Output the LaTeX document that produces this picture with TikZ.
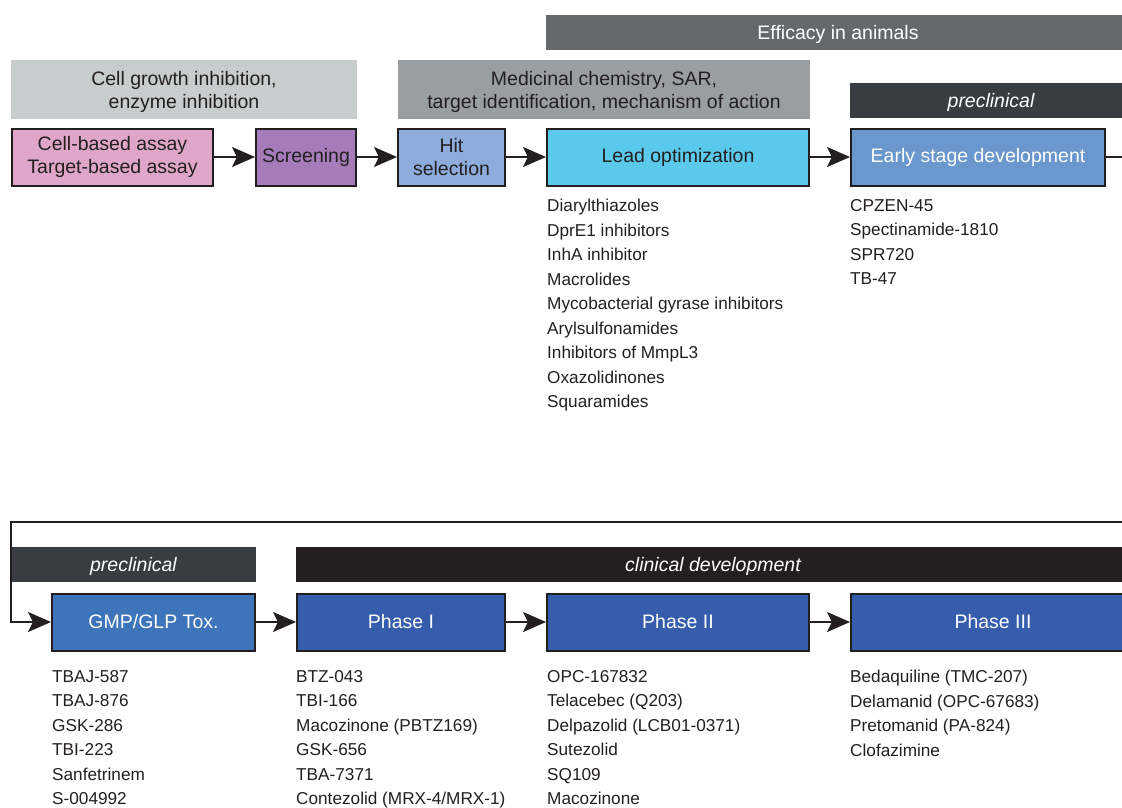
\documentclass[tikz,border=0pt]{standalone}
\usepackage{fontspec}
\setmainfont{Liberation Sans}
\usetikzlibrary{arrows.meta}

\definecolor{inkdark}{HTML}{231F20}
\definecolor{bandlight}{HTML}{C9CCCC}
\definecolor{bandgrey}{HTML}{9B9EA1}
\definecolor{bandmid}{HTML}{65696C}
\definecolor{bandslate}{HTML}{393C40}
\definecolor{pinkassay}{HTML}{E0A6C9}
\definecolor{purplescreen}{HTML}{A57CB9}
\definecolor{bluehit}{HTML}{8DACDC}
\definecolor{cyanlead}{HTML}{5BC9EC}
\definecolor{blueearly}{HTML}{6A97CD}
\definecolor{bluegmp}{HTML}{3D74BA}
\definecolor{bluephase}{HTML}{355DAC}

\newcommand{\stagefont}{\fontsize{19.5}{23}\selectfont}
\newcommand{\drugfont}{\fontsize{17.2}{24.5}\selectfont}

\begin{document}
\begin{tikzpicture}[
  x=1pt, y=-1pt,
  every node/.style={font=\stagefont, text=inkdark},
  stage/.style={draw=inkdark, line width=2pt, minimum height=57pt, align=center, inner sep=0pt},
  band/.style={minimum height=35pt, inner sep=0pt, align=center, text depth=0pt},
  phase label/.style={band, text=white, font=\stagefont\itshape},
  drug list/.style={anchor=north west, align=left, inner sep=0pt, font=\drugfont},
  flow/.style={draw=inkdark, line width=2pt, -{Stealth[length=23pt, width=20pt, inset=5pt]}}
]
\path[use as bounding box] (0,0) rectangle (1122,808);
\clip (0,0) rectangle (1122,808);

\node[band, fill=bandmid, text=white, minimum width=584pt] (efficacy) at (838,32.5) {Efficacy in animals};
\node[band, fill=bandlight, minimum width=346pt, minimum height=59pt] (growth) at (184,89.5) {Cell growth inhibition,\\enzyme inhibition};
\node[band, fill=bandgrey, minimum width=412pt, minimum height=59pt] (medchem) at (604,89.5) {Medicinal chemistry, SAR,\\target identification, mechanism of action};
\node[phase label, fill=bandslate, minimum width=282pt] (preA) at (991,100.5) {preclinical};

\node[stage, fill=pinkassay, minimum width=201pt] (assay) at (112.5,157) {Cell-based assay\\Target-based assay};
\node[stage, fill=purplescreen, minimum width=100pt] (screening) at (306,157) {Screening};
\node[stage, fill=bluehit, minimum width=107pt] (hit) at (451.5,157) {Hit\\selection};
\node[stage, fill=cyanlead, minimum width=262pt] (lead) at (678,157) {Lead optimization};
\node[stage, fill=blueearly, text=white, minimum width=254pt] (early) at (978,157) {Early stage development};

\draw[flow] (assay) -- (screening);
\draw[flow] (screening) -- (hit);
\draw[flow] (hit) -- (lead);
\draw[flow] (lead) -- (early);

\node[drug list] (leadlist) at (547,199) {Diarylthiazoles\\DprE1 inhibitors\\InhA inhibitor\\Macrolides\\Mycobacterial gyrase inhibitors\\Arylsulfonamides\\Inhibitors of MmpL3\\Oxazolidinones\\Squaramides};
\node[drug list] (earlylist) at (850,199) {CPZEN-45\\Spectinamide-1810\\SPR720\\TB-47};

\node[phase label, fill=bandslate, minimum width=245pt] (preB) at (133.5,564) {preclinical};
\node[phase label, fill=inkdark, minimum width=834pt] (clinical) at (713,564) {clinical development};

\node[stage, fill=bluegmp, text=white, minimum width=203pt] (gmp) at (153.5,622) {GMP/GLP Tox.};
\node[stage, fill=bluephase, text=white, minimum width=208pt] (phaseI) at (401,622) {Phase I};
\node[stage, fill=bluephase, text=white, minimum width=262pt] (phaseII) at (678,622) {Phase II};
\node[stage, fill=bluephase, text=white, minimum width=284pt] (phaseIII) at (993,622) {Phase III};

\coordinate (loopR) at (1140,522);
\coordinate (loopL) at (11,522);
\draw[flow] (early.east) -| (loopR) -- (loopL) |- (gmp.west);
\draw[flow] (gmp) -- (phaseI);
\draw[flow] (phaseI) -- (phaseII);
\draw[flow] (phaseII) -- (phaseIII);

\node[drug list] (gmplist) at (52,670) {TBAJ-587\\TBAJ-876\\GSK-286\\TBI-223\\Sanfetrinem\\S-004992};
\node[drug list] (phaseIlist) at (296,670) {BTZ-043\\TBI-166\\Macozinone (PBTZ169)\\GSK-656\\TBA-7371\\Contezolid (MRX-4/MRX-1)};
\node[drug list] (phaseIIlist) at (547,670) {OPC-167832\\Telacebec (Q203)\\Delpazolid (LCB01-0371)\\Sutezolid\\SQ109\\Macozinone};
\node[drug list] (phaseIIIlist) at (850,670) {Bedaquiline (TMC-207)\\Delamanid (OPC-67683)\\Pretomanid (PA-824)\\Clofazimine};
\end{tikzpicture}
\end{document}
